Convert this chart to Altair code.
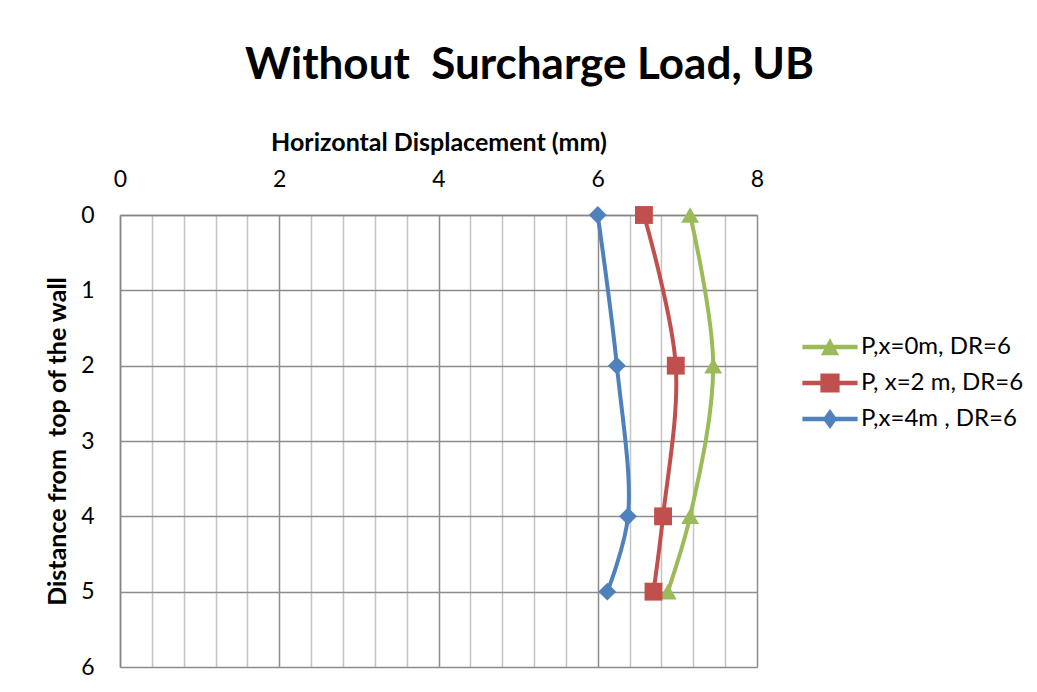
import altair as alt
import pandas as pd

# ---- data ----
depth = [0, 2, 4, 5]
disp_x0 = [7.16, 7.45, 7.16, 6.88]
disp_x2 = [6.58, 6.98, 6.82, 6.70]
disp_x4 = [6.00, 6.24, 6.38, 6.12]
series_names = ["P,x=0m, DR=6", "P, x=2 m, DR=6", "P,x=4m , DR=6"]
series_colors = ["#9BBB59", "#C0504D", "#4F81BD"]
marker_shapes = ["triangle-up", "square", "diamond"]
x_grid_values = [0, 0.4, 0.8, 1.2, 1.6, 2, 2.4, 2.8, 3.2, 3.6, 4, 4.4, 4.8,
                 5.2, 5.6, 6, 6.4, 6.8, 7.2, 7.6, 8]
y_values = [0, 1, 2, 3, 4, 5, 6]

# legend symbols: line segment + marker (custom paths)
legend_paths = [
    "M-1.15,-0.094H1.15V0.094H-1.15Z M0,-0.38L0.38,0.34H-0.38Z",
    "M-1.15,-0.094H1.15V0.094H-1.15Z M-0.4,-0.4H0.4V0.4H-0.4Z",
    "M-1.15,-0.094H1.15V0.094H-1.15Z M0,-0.42L0.3,0L0,0.42L-0.3,0Z",
]

rows = []
for name, vals in zip(series_names, [disp_x0, disp_x2, disp_x4]):
    for d, v in zip(depth, vals):
        rows.append({"series": name, "depth": d, "disp": v})
df = pd.DataFrame(rows)

FONT = "Lato"
MAJOR_TEST = "abs(datum.value - round(datum.value/2)*2) < 0.001"

x_enc = alt.X(
    "disp:Q",
    scale=alt.Scale(domain=[0, 8], nice=False, zero=False),
    axis=alt.Axis(
        orient="top",
        values=x_grid_values,
        labelExpr=MAJOR_TEST + " ? format(datum.value, 'd') : ''",
        labelFlush=False,
        title="Horizontal Displacement (mm)",
        titleFontSize=25,
        titleFontWeight="bold",
        titleFont=FONT,
        titleColor="#000",
        titlePadding=13,
        labelFont=FONT,
        labelFontSize=23,
        labelColor="#000",
        labelPadding=24,
        ticks=False,
        domainColor="#868686",
        domainWidth=1.5,
        grid=True,
        gridColor={"condition": {"test": MAJOR_TEST, "value": "#8c8c8c"}, "value": "#c4c4c4"},
        gridWidth=1.5,
    ),
)
y_enc = alt.Y(
    "depth:Q",
    scale=alt.Scale(domain=[0, 6], reverse=True, nice=False),
    axis=alt.Axis(
        values=y_values,
        labelFlush=False,
        title="Distance from\u00a0 top of the wall",
        titleFontSize=25,
        titleFontWeight="bold",
        titleFont=FONT,
        titleColor="#000",
        titlePadding=10,
        labelFont=FONT,
        labelFontSize=23,
        labelColor="#000",
        labelPadding=26,
        ticks=False,
        domainColor="#868686",
        domainWidth=1.5,
        grid=True,
        gridColor="#8c8c8c",
        gridWidth=1.5,
    ),
)
color_scale = alt.Scale(domain=series_names, range=series_colors)

base = alt.Chart(df)

layers = []
for name, col, shp in zip(series_names, series_colors, marker_shapes):
    sub = base.transform_filter(alt.datum.series == name)
    line = sub.mark_line(strokeWidth=4, interpolate="catmull-rom", color=col).encode(
        x=x_enc, y=y_enc, order=alt.Order("depth:Q"))
    pts = sub.mark_point(filled=True, shape=shp, size=320, opacity=1, color=col).encode(
        x=x_enc, y=y_enc)
    layers += [line, pts]

leg = dict(title=None, orient="none", legendX=686, legendY=108,
           labelFont=FONT, labelFontSize=24, labelColor="#000", labelLimit=400,
           labelOffset=7, symbolOpacity=1, symbolSize=2304,
           rowPadding=0, padding=0, symbolStrokeWidth=0)

legend_layer = base.mark_point(filled=True, opacity=0, size=2304).encode(
    x=x_enc,
    y=y_enc,
    color=alt.Color("series:N", scale=color_scale, legend=alt.Legend(**leg)),
    shape=alt.Shape("series:N", scale=alt.Scale(domain=series_names, range=legend_paths),
                    legend=alt.Legend(**leg)),
)

chart = alt.layer(legend_layer, *layers).properties(
    width=637,
    height=452,
    title=alt.TitleParams("Without\u00a0 Surcharge Load, UB", font=FONT, fontSize=44,
                          fontWeight="bold", color="#000", anchor="middle", dx=91, offset=42),
    padding={"left": 112, "top": 207, "right": 272, "bottom": 17},
    autosize=alt.AutoSizeParams(type="none"),
    background="white",
).configure_view(stroke=None)

chart.save("out.html", embed_options={"renderer": "svg", "actions": False})
